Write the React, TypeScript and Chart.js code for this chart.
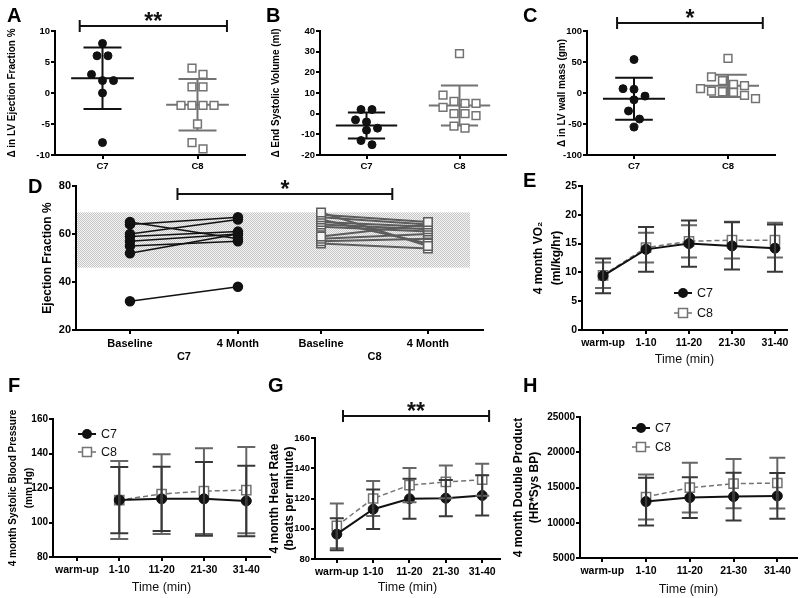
import React, { useEffect, useRef } from 'react';
import { Chart, registerables } from 'chart.js';

Chart.register(...registerables);

const FONT = "'Liberation Sans', Arial, Helvetica, sans-serif";
Chart.defaults.font.family = FONT;
Chart.defaults.color = '#000';

const PAGE_W = 800;
const PAGE_H = 598;
const INK = '#111111';
const GREY = '#737373';
const C7_ERR = '#383838';
const C8_ERR = '#666666';

// ---------------- data ----------------
const groups = ['C7', 'C8'];

// A: change in LV ejection fraction (%)
const efChangeC7 = [8, 6, 6, 3, 2, 2, 0, -8];
const efChangeC8 = [4, 3, 1, 1, -2, -2, -2, -2, -5, -8, -9];
// B: change in end systolic volume (ml)
const esvChangeC7 = [2, 2, -3, -4, -7, -8, -13, -15];
const esvChangeC8 = [29, 9, 6, 5, 5, 3, 0, 0, -1, -6, -7];
// C: change in LV wall mass (gm)
const massChangeC7 = [54, 7, 6, -5, -11, -29, -42, -55];
const massChangeC8 = [56, 26, 20, 14, 12, 7, 3, 2, 1, -4, -9];

// D: ejection fraction, baseline vs 4 month
const visitLabels = ['Baseline', '4 Month', 'Baseline', '4 Month'];
const efBaselineC7 = [65, 64, 60, 59, 57, 55, 52, 32];
const ef4MonthC7 = [58, 67, 66, 61, 60, 57, 60, 38];
const efBaselineC8 = [69, 68, 67, 66, 65, 64, 63, 59, 58, 57, 56];
const ef4MonthC8 = [55, 65, 64, 56, 63, 62, 61, 64, 60, 58, 54];
const efNormalRange = [46, 69];

// E-H: exercise time course
const timeLabels = ['warm-up', '1-10', '11-20', '21-30', '31-40'];
const vo2C7 = [9.4, 14.0, 15.0, 14.6, 14.2];
const vo2C7Sd = [3.0, 3.9, 4.0, 4.1, 4.1];
const vo2C8 = [9.5, 14.3, 15.4, 15.6, 15.6];
const vo2C8Sd = [2.2, 2.6, 2.8, 3.2, 3.0];

const sbpC7 = [null, 113.0, 113.7, 113.7, 112.5];
const sbpC7Sd = [null, 19.2, 18.6, 21.4, 20.4];
const sbpC8 = [null, 113.0, 116.5, 118.2, 118.8];
const sbpC8Sd = [null, 22.6, 23.1, 24.8, 25.0];

const hrC7 = [96.4, 112.9, 119.8, 120.2, 122.0];
const hrC7Sd = [10.6, 13.0, 13.2, 12.0, 13.3];
const hrC8 = [101.9, 120.0, 128.8, 131.0, 132.4];
const hrC8Sd = [14.8, 11.5, 11.3, 10.8, 10.6];

const dpC7 = [null, 13000, 13565, 13706, 13800];
const dpC7Sd = [null, 3400, 2900, 3400, 3250];
const dpC8 = [null, 13650, 14976, 15541, 15635];
const dpC8Sd = [null, 3200, 3530, 3500, 3600];

// ---------------- layout ----------------
interface Box { L: number; T: number; R: number; B: number }
const BOX_A: Box = { L: 55, T: 31, R: 245, B: 155 };
const BOX_B: Box = { L: 320, T: 31, R: 506, B: 155 };
const BOX_C: Box = { L: 587, T: 31, R: 775, B: 155 };
const BOX_D: Box = { L: 76, T: 186, R: 483, B: 330 };
const BOX_E: Box = { L: 582, T: 186, R: 787, B: 330 };
const BOX_F: Box = { L: 53, T: 419, R: 270, B: 557 };
const BOX_G: Box = { L: 315, T: 438, R: 500, B: 559 };
const BOX_H: Box = { L: 580, T: 417, R: 797, B: 558 };
const D_POS = [1, 2, 2.77, 3.76];
const X_TITLE_SIZE = 12.5;

interface Spec {
  box: Box;
  x: { min: number; max: number; ticks: number[]; labels: string[]; size: number; pad: number; title?: string; titleY?: number };
  y: { min: number; max: number; step: number; size: number; title: string | string[]; titleX: number; titleSize: number; titleLH: number };
  datasets: any[];
  under?: (c: any) => void;
  over?: (c: any) => void;
}

const mean = (a: number[]) => a.reduce((s, v) => s + v, 0) / a.length;
const stdev = (a: number[]) => {
  const m = mean(a);
  return Math.sqrt(a.reduce((s, v) => s + (v - m) * (v - m), 0) / (a.length - 1));
};

// simple row-based beeswarm (offsets computed from the values)
function swarm(values: number[], cat: number, box: Box, xr: number[], yr: number[]) {
  const yPx = (box.B - box.T) / (yr[1] - yr[0]);
  const xPx = (box.R - box.L) / (xr[1] - xr[0]);
  const STEP = 11;
  const ROW = 10;
  const sorted = [...values].sort((a, b) => b - a);
  const rows: number[][] = [];
  for (const v of sorted) {
    const row = rows[rows.length - 1];
    if (row && (row[0] - v) * yPx < ROW) row.push(v);
    else rows.push([v]);
  }
  const pts: { x: number; y: number }[] = [];
  rows.forEach((row) => row.forEach((v, k) => pts.push({ x: cat + ((k - (row.length - 1) / 2) * STEP) / xPx, y: v })));
  return pts;
}

function font(size: number, bold = true) {
  return `${bold ? 'bold ' : ''}${size}px ${FONT}`;
}

function drawLetter(c: any, text: string, x: number, y: number) {
  const ctx = c.ctx;
  ctx.save();
  ctx.font = font(20);
  ctx.fillStyle = '#000';
  ctx.textAlign = 'left';
  ctx.textBaseline = 'alphabetic';
  ctx.fillText(text, x, y);
  ctx.restore();
}

function drawSig(c: any, x1: number, x2: number, yVal: number, text: string) {
  const ctx = c.ctx;
  const xs = c.scales.x;
  const ys = c.scales.y;
  const a = xs.getPixelForValue(x1);
  const b = xs.getPixelForValue(x2);
  const y = ys.getPixelForValue(yVal);
  ctx.save();
  ctx.strokeStyle = INK;
  ctx.lineWidth = 2;
  ctx.beginPath();
  ctx.moveTo(a, y); ctx.lineTo(b, y);
  ctx.moveTo(a, y - 6); ctx.lineTo(a, y + 6);
  ctx.moveTo(b, y - 6); ctx.lineTo(b, y + 6);
  ctx.stroke();
  ctx.font = font(23);
  ctx.fillStyle = INK;
  ctx.textAlign = 'center';
  ctx.textBaseline = 'alphabetic';
  ctx.fillText(text, (a + b) / 2, y + 3);
  ctx.restore();
}

function drawMeanSd(c: any, sets: { cat: number; values: number[]; color: string }[]) {
  const ctx = c.ctx;
  const xs = c.scales.x;
  const ys = c.scales.y;
  const unit = xs.getPixelForValue(1) - xs.getPixelForValue(0);
  ctx.save();
  ctx.lineWidth = 2;
  for (const s of sets) {
    const m = mean(s.values);
    const d = stdev(s.values);
    const cx = xs.getPixelForValue(s.cat);
    const ym = ys.getPixelForValue(m);
    const yt = ys.getPixelForValue(m + d);
    const yb = ys.getPixelForValue(m - d);
    const mh = 0.33 * unit;
    const ch = 0.2 * unit;
    ctx.strokeStyle = s.color;
    ctx.beginPath();
    ctx.moveTo(cx - mh, ym); ctx.lineTo(cx + mh, ym);
    ctx.moveTo(cx, yt); ctx.lineTo(cx, yb);
    ctx.moveTo(cx - ch, yt); ctx.lineTo(cx + ch, yt);
    ctx.moveTo(cx - ch, yb); ctx.lineTo(cx + ch, yb);
    ctx.stroke();
  }
  ctx.restore();
}

function drawErrorBars(c: any, series: { means: (number | null)[]; sds: (number | null)[]; color: string }[], capHalf: number) {
  const ctx = c.ctx;
  const xs = c.scales.x;
  const ys = c.scales.y;
  ctx.save();
  ctx.lineWidth = 2;
  for (const s of series) {
    ctx.strokeStyle = s.color;
    s.means.forEach((m, i) => {
      const d = s.sds[i];
      if (m == null || d == null) return;
      const x = xs.getPixelForValue(i);
      const y1 = ys.getPixelForValue(m + d);
      const y2 = ys.getPixelForValue(m - d);
      ctx.beginPath();
      ctx.moveTo(x, y1); ctx.lineTo(x, y2);
      ctx.moveTo(x - capHalf, y1); ctx.lineTo(x + capHalf, y1);
      ctx.moveTo(x - capHalf, y2); ctx.lineTo(x + capHalf, y2);
      ctx.stroke();
    });
  }
  ctx.restore();
}

function drawLegend(c: any, x: number, ys: number[]) {
  const ctx = c.ctx;
  ctx.save();
  ctx.strokeStyle = INK;
  ctx.lineWidth = 2;
  ctx.beginPath(); ctx.moveTo(x - 9, ys[0]); ctx.lineTo(x + 9, ys[0]); ctx.stroke();
  ctx.fillStyle = INK;
  ctx.beginPath(); ctx.arc(x, ys[0], 5, 0, Math.PI * 2); ctx.fill();
  ctx.strokeStyle = GREY;
  ctx.lineWidth = 1.5;
  ctx.setLineDash([4, 3]);
  ctx.beginPath(); ctx.moveTo(x - 9, ys[1]); ctx.lineTo(x + 9, ys[1]); ctx.stroke();
  ctx.setLineDash([]);
  ctx.fillStyle = '#fff';
  ctx.fillRect(x - 4.5, ys[1] - 4.5, 9, 9);
  ctx.strokeRect(x - 4.5, ys[1] - 4.5, 9, 9);
  ctx.font = font(12.5, false);
  ctx.fillStyle = INK;
  ctx.textAlign = 'left';
  ctx.textBaseline = 'middle';
  ctx.fillText(groups[0], x + 14, ys[0] + 1);
  ctx.fillText(groups[1], x + 14, ys[1] + 1);
  ctx.restore();
}

const dotStyle = { pointStyle: 'circle', pointRadius: 4, pointBackgroundColor: INK, pointBorderColor: INK, pointBorderWidth: 1, clip: false };
const squareStyle = { pointStyle: 'rect', pointRadius: 5.5, pointBackgroundColor: '#fff', pointBorderColor: GREY, pointBorderWidth: 1.5, clip: false };

function seriesPoints(vals: (number | null)[]) {
  return vals.flatMap((v, i) => (v == null ? [] : [{ x: i, y: v }]));
}
const lineC7 = (vals: (number | null)[]) => ({
  data: seriesPoints(vals), showLine: true, borderColor: INK, borderWidth: 2,
  pointStyle: 'circle', pointRadius: 5, pointBackgroundColor: INK, pointBorderColor: INK, pointBorderWidth: 1, clip: false,
});
const lineC8 = (vals: (number | null)[]) => ({
  data: seriesPoints(vals), showLine: true, borderColor: GREY, borderWidth: 1.5, borderDash: [5, 3],
  pointStyle: 'rect', pointRadius: 6.5, pointBackgroundColor: '#fff', pointBorderColor: GREY, pointBorderWidth: 1.5, clip: false,
});

function makeConfig(s: Spec): any {
  const { L, T, R, B } = s.box;
  const padLeft = s.y.titleX - (s.y.titleSize * s.y.titleLH) / 2;
  const xLH = X_TITLE_SIZE * 1.2;
  const padBottom = s.x.title ? PAGE_H - (s.x.titleY as number) - xLH / 2 : PAGE_H - B - 45;
  const grid = { display: true, drawOnChartArea: false, drawTicks: true, tickLength: 4, color: '#000', lineWidth: 2 };
  const border = { display: true, color: '#000', width: 2 };
  return {
    type: 'scatter',
    data: { datasets: s.datasets },
    options: {
      responsive: false,
      maintainAspectRatio: false,
      animation: false,
      devicePixelRatio: 1,
      events: [],
      layout: { autoPadding: false, padding: { left: padLeft, top: T, right: PAGE_W - R, bottom: padBottom } },
      plugins: { legend: { display: false }, tooltip: { enabled: false } },
      scales: {
        x: {
          type: 'linear',
          position: 'bottom',
          min: s.x.min,
          max: s.x.max,
          afterBuildTicks: (sc: any) => { sc.ticks = s.x.ticks.map((v) => ({ value: v })); },
          afterFit: (sc: any) => { sc.height = PAGE_H - padBottom - B; },
          ticks: {
            autoSkip: false, maxRotation: 0, minRotation: 0, padding: s.x.pad, color: '#000',
            font: { size: s.x.size, weight: 'bold', family: FONT },
            callback: (_v: any, i: number) => s.x.labels[i],
          },
          grid,
          border,
          title: s.x.title
            ? { display: true, text: s.x.title, color: INK, padding: 0, font: { size: X_TITLE_SIZE, family: FONT, weight: 'normal', lineHeight: 1.2 } }
            : { display: false },
        },
        y: {
          type: 'linear',
          position: 'left',
          min: s.y.min,
          max: s.y.max,
          afterFit: (sc: any) => { sc.width = L - padLeft; },
          ticks: {
            stepSize: s.y.step, padding: 1, color: '#000',
            font: { size: s.y.size, weight: 'bold', family: FONT },
            callback: (v: any) => String(v),
          },
          grid,
          border,
          title: {
            display: true, text: s.y.title, color: '#000', padding: 0,
            font: { size: s.y.titleSize, weight: 'bold', family: FONT, lineHeight: s.y.titleLH },
          },
        },
      },
    },
    plugins: [{
      id: 'panelDecor',
      beforeDatasetsDraw: (c: any) => { if (s.under) s.under(c); },
      afterDatasetsDraw: (c: any) => { if (s.over) s.over(c); },
    }],
  };
}

// ---------- scatter panels A-C ----------
function scatterSpec(box: Box, c7: number[], c8: number[], yMin: number, yMax: number, step: number, title: string, titleX: number,
  letter: string, letterX: number, sig?: { x1: number; x2: number; y: number; text: string }): Spec {
  const xr = [-0.5, 1.5];
  const yr = [yMin, yMax];
  return {
    box,
    x: { min: xr[0], max: xr[1], ticks: [0, 1], labels: groups, size: 9.5, pad: 2 },
    y: { min: yMin, max: yMax, step, size: 9.5, title, titleX, titleSize: 10, titleLH: 1.2 },
    datasets: [
      { data: swarm(c7, 0, box, xr, yr), ...dotStyle },
      { data: swarm(c8, 1, box, xr, yr), ...squareStyle },
    ],
    under: (c) => drawMeanSd(c, [{ cat: 0, values: c7, color: INK }, { cat: 1, values: c8, color: GREY }]),
    over: (c) => {
      if (sig) drawSig(c, sig.x1, sig.x2, sig.y, sig.text);
      drawLetter(c, letter, letterX, 22);
    },
  };
}

const specA = scatterSpec(BOX_A, efChangeC7, efChangeC8, -10, 10, 5, 'Δ in LV Ejection Fraction %', 12.5, 'A', 7,
  { x1: -0.24, x2: 1.31, y: 10.8, text: '**' });
const specB = scatterSpec(BOX_B, esvChangeC7, esvChangeC8, -20, 40, 10, 'Δ End Systolic Volume (ml)', 276, 'B', 266);
const specC = scatterSpec(BOX_C, massChangeC7, massChangeC8, -100, 100, 50, 'Δ in LV wall mass (gm)', 562, 'C', 523,
  { x1: -0.18, x2: 1.37, y: 112.9, text: '*' });

// ---------- panel D ----------
let bandPattern: any = null;
function getBandPattern(ctx: CanvasRenderingContext2D) {
  if (!bandPattern) {
    const t = document.createElement('canvas');
    t.width = 2; t.height = 2;
    const tc = t.getContext('2d') as CanvasRenderingContext2D;
    tc.fillStyle = '#f4f4f4'; tc.fillRect(0, 0, 2, 2);
    tc.fillStyle = '#c6c6c6'; tc.fillRect(0, 0, 1, 1); tc.fillRect(1, 1, 1, 1);
    bandPattern = ctx.createPattern(t, 'repeat');
  }
  return bandPattern;
}

const specD: Spec = {
  box: BOX_D,
  x: { min: 0.5, max: 4.27, ticks: D_POS, labels: visitLabels, size: 11, pad: 3 },
  y: { min: 20, max: 80, step: 20, size: 11, title: 'Ejection Fraction %', titleX: 48, titleSize: 12, titleLH: 1.2 },
  datasets: [
    ...efBaselineC7.map((b, i) => ({
      data: [{ x: D_POS[0], y: b }, { x: D_POS[1], y: ef4MonthC7[i] }], showLine: true, borderColor: INK, borderWidth: 1.5,
      pointStyle: 'circle', pointRadius: 4.5, pointBackgroundColor: INK, pointBorderColor: INK, clip: false,
    })),
    ...efBaselineC8.map((b, i) => ({
      data: [{ x: D_POS[2], y: b }, { x: D_POS[3], y: ef4MonthC8[i] }], showLine: true, borderColor: '#5c5c5c', borderWidth: 2,
      pointStyle: 'rect', pointRadius: 6, pointBackgroundColor: '#f4f4f4', pointBorderColor: '#5c5c5c', pointBorderWidth: 1.5, clip: false,
    })),
  ],
  under: (c) => {
    const ctx = c.ctx;
    const xs = c.scales.x;
    const ys = c.scales.y;
    const x1 = xs.getPixelForValue(0.5) + 1;
    const x2 = xs.getPixelForValue(4.15);
    const y1 = ys.getPixelForValue(efNormalRange[1]);
    const y2 = ys.getPixelForValue(efNormalRange[0]);
    ctx.save();
    ctx.fillStyle = getBandPattern(ctx);
    ctx.fillRect(x1, y1, x2 - x1, y2 - y1);
    ctx.restore();
  },
  over: (c) => {
    drawSig(c, 1.44, 3.43, 76.7, '*');
    drawLetter(c, 'D', 28, 193);
    const ctx = c.ctx;
    const xs = c.scales.x;
    ctx.save();
    ctx.font = font(11);
    ctx.fillStyle = '#000';
    ctx.textAlign = 'center';
    ctx.textBaseline = 'middle';
    ctx.fillText(groups[0], xs.getPixelForValue((D_POS[0] + D_POS[1]) / 2), 357);
    ctx.fillText(groups[1], xs.getPixelForValue((D_POS[2] + D_POS[3]) / 2), 357);
    ctx.restore();
  },
};

// ---------- time course panels E-H ----------
const timeTicks = timeLabels.map((_, i) => i);

const specE: Spec = {
  box: BOX_E,
  x: { min: -0.49, max: 4.28, ticks: timeTicks, labels: timeLabels, size: 10.5, pad: 3, title: 'Time (min)', titleY: 360 },
  y: { min: 0, max: 25, step: 5, size: 10.5, title: ['4 month VO₂', '(ml/kg/hr)'], titleX: 539, titleSize: 12, titleLH: 1.5 },
  datasets: [lineC7(vo2C7), lineC8(vo2C8)],
  over: (c) => {
    drawErrorBars(c, [{ means: vo2C8, sds: vo2C8Sd, color: C8_ERR }, { means: vo2C7, sds: vo2C7Sd, color: C7_ERR }], 8);
    drawLegend(c, 683, [293, 313]);
    drawLetter(c, 'E', 523, 187);
  },
};

const specF: Spec = {
  box: BOX_F,
  x: { min: -0.565, max: 4.56, ticks: timeTicks, labels: timeLabels, size: 10.5, pad: 3, title: 'Time (min)', titleY: 588 },
  y: { min: 80, max: 160, step: 20, size: 10, title: ['4 month Systolic Blood Pressure', '(mm Hg)'], titleX: 13, titleSize: 10, titleLH: 1.6 },
  datasets: [lineC7(sbpC7), lineC8(sbpC8)],
  over: (c) => {
    drawErrorBars(c, [{ means: sbpC8, sds: sbpC8Sd, color: C8_ERR }, { means: sbpC7, sds: sbpC7Sd, color: C7_ERR }], 9);
    drawLegend(c, 87, [434, 452]);
    drawLetter(c, 'F', 8, 392);
  },
};

const specG: Spec = {
  box: BOX_G,
  x: { min: -0.6, max: 4.49, ticks: timeTicks, labels: timeLabels, size: 10.5, pad: 3, title: 'Time (min)', titleY: 588 },
  y: { min: 80, max: 160, step: 20, size: 9.5, title: ['4 month Heart Rate', '(beats per minute)'], titleX: 275, titleSize: 12, titleLH: 1.2 },
  datasets: [lineC7(hrC7), lineC8(hrC8)],
  over: (c) => {
    drawErrorBars(c, [{ means: hrC8, sds: hrC8Sd, color: C8_ERR }, { means: hrC7, sds: hrC7Sd, color: C7_ERR }], 7);
    drawSig(c, 0.17, 4.19, 174.5, '**');
    drawLetter(c, 'G', 268, 392);
  },
};

const specH: Spec = {
  box: BOX_H,
  x: { min: -0.51, max: 4.45, ticks: timeTicks, labels: timeLabels, size: 10.5, pad: 3, title: 'Time (min)', titleY: 590 },
  y: { min: 5000, max: 25000, step: 5000, size: 10, title: ['4 month Double Product', '(HR*Sys BP)'], titleX: 519, titleSize: 12, titleLH: 1.3 },
  datasets: [lineC7(dpC7), lineC8(dpC8)],
  over: (c) => {
    drawErrorBars(c, [{ means: dpC8, sds: dpC8Sd, color: C8_ERR }, { means: dpC7, sds: dpC7Sd, color: C7_ERR }], 8);
    drawLegend(c, 641, [428, 447]);
    drawLetter(c, 'H', 523, 392);
  },
};

const panels: Spec[] = [specA, specB, specC, specD, specE, specF, specG, specH];

function PanelCanvas({ spec }: { spec: Spec }) {
  const ref = useRef<HTMLCanvasElement>(null);
  useEffect(() => {
    const chart = new Chart(ref.current as HTMLCanvasElement, makeConfig(spec));
    return () => chart.destroy();
  }, [spec]);
  return (
    <canvas
      ref={ref}
      width={PAGE_W}
      height={PAGE_H}
      style={{ position: 'absolute', left: 0, top: 0, width: PAGE_W, height: PAGE_H }}
    />
  );
}

export default function App() {
  return (
    <div style={{ position: 'absolute', left: 0, top: 0, width: PAGE_W, height: PAGE_H, background: '#fff', overflow: 'hidden' }}>
      {panels.map((p, i) => (
        <PanelCanvas key={i} spec={p} />
      ))}
    </div>
  );
}
